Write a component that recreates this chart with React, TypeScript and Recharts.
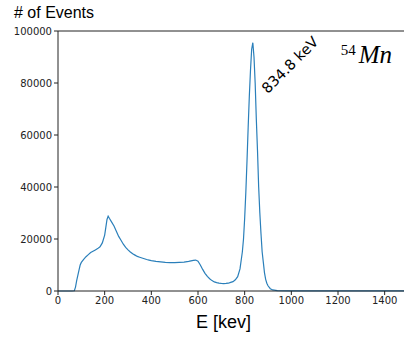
import { LineChart, Line, XAxis, YAxis, ReferenceLine, ReferenceDot } from "recharts";

// Mn-54 gamma spectrum
const energy = [
  0, 20, 40, 60, 70, 75, 80, 85, 90, 95, 100, 110, 120, 130, 140, 150, 160, 170, 180, 190,
  200, 205, 210, 215, 220, 230, 240, 250, 260, 270, 280, 290, 300, 310, 320, 330, 340, 350,
  360, 370, 380, 390, 400, 420, 440, 460, 480, 500, 520, 540, 560, 580, 590, 600, 610, 620,
  630, 640, 650, 660, 670, 680, 690, 700, 710, 720, 730, 740, 750, 760, 770, 780, 790, 795,
  800, 805, 810, 815, 820, 825, 830, 835, 840, 845, 850, 855, 860, 865, 870, 875, 880, 885,
  890, 895, 900, 910, 920, 940, 1000, 1100, 1200, 1300, 1400, 1500,
];
const counts = [
  0, 0, 0, 0, 100, 1500, 4000, 6000, 8000, 10000, 11000, 12200, 13200, 14000, 14800, 15300,
  15800, 16300, 17000, 18500, 21500, 24500, 27500, 28800, 28000, 26500, 25000, 23000, 21000,
  19500, 18000, 16800, 15800, 15000, 14300, 13800, 13300, 13000, 12700, 12400, 12100, 11900,
  11700, 11400, 11200, 11000, 10950, 10900, 11000, 11100, 11400, 11800, 11900, 11500, 10000,
  8300, 6800, 5600, 4700, 4000, 3500, 3200, 3000, 2900, 2850, 2900, 3000, 3300, 3600, 4300,
  5500, 8500, 15000, 20000, 28000, 38000, 50000, 63000, 75000, 85000, 93000, 95500, 90000,
  80000, 66000, 54000, 40000, 30000, 22000, 15000, 11000, 7000, 4500, 3000, 2000, 900, 400,
  150, 80, 50, 40, 30, 20, 20,
];
const xTicks = [0, 200, 400, 600, 800, 1000, 1200, 1400];
const yTicks = [0, 20000, 40000, 60000, 80000, 100000];
const peakText = "834.8 keV";

const data = energy.map((e, i) => ({ energy: e, count: counts[i] }));

const tickStyle = { fontSize: 10, fontFamily: "DejaVu Sans", fill: "#222" };

export default function App() {
  return (
    <div
      style={{
        position: "fixed",
        left: 0,
        top: 0,
        width: 404,
        height: 338,
        overflow: "hidden",
        background: "#fff",
      }}
    >
      <div
        style={{
          position: "absolute",
          left: 14,
          top: 4,
          fontFamily: "Liberation Sans",
          fontSize: 16,
          lineHeight: "18px",
          color: "#000",
        }}
      >
        # of Events
      </div>
      <div
        style={{
          position: "absolute",
          left: 196,
          top: 312,
          fontFamily: "Liberation Sans",
          fontSize: 18,
          lineHeight: "20px",
          color: "#000",
        }}
      >
        E [kev]
      </div>
      <LineChart
        width={412}
        height={338}
        data={data}
        margin={{ top: 31, right: 4, left: 0, bottom: 17 }}
      >
        <XAxis
          dataKey="energy"
          type="number"
          domain={[0, 1500]}
          ticks={xTicks}
          tick={tickStyle}
          tickSize={4}
          height={30}
          stroke="#222"
          interval={0}
        />
        <YAxis
          type="number"
          domain={[0, 100000]}
          ticks={yTicks}
          tick={tickStyle}
          tickSize={4}
          tickMargin={2}
          width={58}
          stroke="#222"
          interval={0}
        />
        <ReferenceLine y={100000} stroke="#222" />
        <Line
          type="linear"
          dataKey="count"
          stroke="#2a7fba"
          strokeWidth={1.2}
          dot={false}
          isAnimationActive={false}
        />
        <ReferenceDot
          x={994}
          y={86900}
          r={1}
          shape={(p: any) => (
            <text
              x={p.cx}
              y={p.cy}
              transform={`rotate(-45 ${p.cx} ${p.cy})`}
              textAnchor="middle"
              dominantBaseline="central"
              fontFamily="DejaVu Sans"
              fontSize={14.5}
              fill="#000"
            >
              {peakText}
            </text>
          )}
        />
        <ReferenceDot
          x={1212}
          y={87700}
          r={1}
          shape={(p: any) => (
            <text x={p.cx} y={p.cy} fontFamily="Liberation Serif" fill="#000">
              <tspan fontSize={15} dy={-8}>54</tspan>
              <tspan fontSize={25} fontStyle="italic" dx={3} dy={8}>Mn</tspan>
            </text>
          )}
        />
      </LineChart>
    </div>
  );
}
